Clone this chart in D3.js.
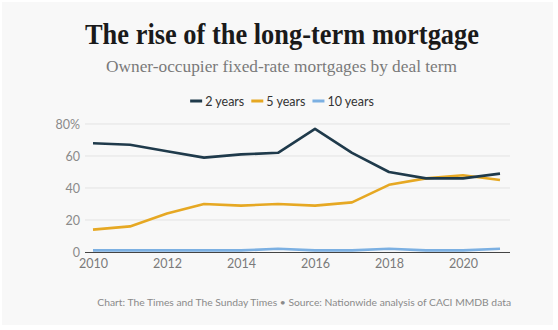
<!DOCTYPE html>
<html><head><meta charset="utf-8">
<script src="https://cdn.jsdelivr.net/npm/d3@7"></script>
<style>body{margin:0;background:#fff}svg{display:block}</style>
</head><body><svg id="c" width="558" height="330"></svg>
<script>
const years = [2010,2011,2012,2013,2014,2015,2016,2017,2018,2019,2020,2021];
const twoYears = [68,67,63,59,61,62,77,62,50,46,46,49];
const fiveYears = [14,16,24,30,29,30,29,31,42,46,48,45];
const tenYears = [1,1,1,1,1,2,1,1,2,1,1,2];
const seriesNames = ["2 years","5 years","10 years"];
const seriesColors = ["#1f3a4b","#e6a823","#7cb0e2"];
const yTicks = [0,20,40,60,80];
const xTicks = [2010,2012,2014,2016,2018,2020];

const svg = d3.select("#c");
svg.append("rect").attr("x",2).attr("y",2).attr("width",551).attr("height",323).attr("fill","#f8f8f8");

svg.append("text").attr("x",282).attr("y",44).attr("text-anchor","middle")
  .attr("font-family","Liberation Serif, serif").attr("font-weight","bold").attr("font-size",28.5)
  .attr("textLength",394).attr("lengthAdjust","spacingAndGlyphs")
  .attr("fill","#1a1a1a").text("The rise of the long-term mortgage");
svg.append("text").attr("x",281.5).attr("y",72).attr("text-anchor","middle")
  .attr("font-family","Liberation Serif, serif").attr("font-size",17.5)
  .attr("textLength",351).attr("lengthAdjust","spacingAndGlyphs")
  .attr("fill","#7a7a7a").text("Owner-occupier fixed-rate mortgages by deal term");

const x = d3.scaleLinear().domain([2010,2021]).range([93,500]);
const y = d3.scaleLinear().domain([0,80]).range([252,124]);

const g = svg.append("g");
g.selectAll("line.grid").data(yTicks.filter(d=>d>0)).join("line")
  .attr("x1",85).attr("x2",510).attr("y1",d=>y(d)).attr("y2",d=>y(d))
  .attr("stroke","#e3e3e3").attr("stroke-width",1);

const yAxis = d3.axisLeft(y).tickValues(yTicks).tickSize(0).tickPadding(0)
  .tickFormat(d=>d===80?"80%":d);
const ya = svg.append("g").attr("transform","translate(80,0)").call(yAxis);
ya.select(".domain").remove();
ya.selectAll("text").attr("font-family","Lato, sans-serif").attr("font-size",12.5).attr("fill","#8a8a8a").attr("dy","0.35em");

const xAxis = d3.axisBottom(x).tickValues(xTicks).tickSize(0).tickPadding(7).tickFormat(d3.format("d"));
const xa = svg.append("g").attr("transform","translate(0,252)").call(xAxis);
xa.select(".domain").remove();
xa.selectAll("text").attr("font-family","Lato, sans-serif").attr("font-size",12.5).attr("fill","#7a7a7a");
svg.append("line").attr("x1",85).attr("x2",510).attr("y1",252.5).attr("y2",252.5).attr("stroke","#444").attr("stroke-width",1);

const line = d3.line().x((d,i)=>x(years[i])).y(d=>y(d));
const data = [twoYears,fiveYears,tenYears];
[2,1,0].forEach(i=>{
  svg.append("path").datum(data[i]).attr("d",line).attr("fill","none")
    .attr("stroke",seriesColors[i]).attr("stroke-width",2.6).attr("stroke-linejoin","round");
});

// legend
const lg = svg.append("g").attr("font-family","Lato, sans-serif").attr("font-size",12.5);
const items = seriesNames.map((n,i)=>{
  const gi = lg.append("g");
  gi.append("line").attr("x1",0).attr("x2",12).attr("y1",101).attr("y2",101).attr("stroke",seriesColors[i]).attr("stroke-width",3);
  const t = gi.append("text").attr("x",15).attr("y",105.5).attr("fill","#333").text(n);
  return {gi, w: 15 + t.node().getComputedTextLength()};
});
const gap = 7;
const total = d3.sum(items,d=>d.w) + gap*(items.length-1);
let lx = 282 - total/2;
items.forEach(it=>{ it.gi.attr("transform",`translate(${lx},0)`); lx += it.w + gap; });

svg.append("text").attr("x",511).attr("y",306).attr("text-anchor","end")
  .attr("font-family","Lato, sans-serif").attr("font-size",10.3).attr("fill","#8a8a8a")
  .text("Chart: The Times and The Sunday Times \u2022 Source: Nationwide analysis of CACI MMDB data");
</script></body></html>
